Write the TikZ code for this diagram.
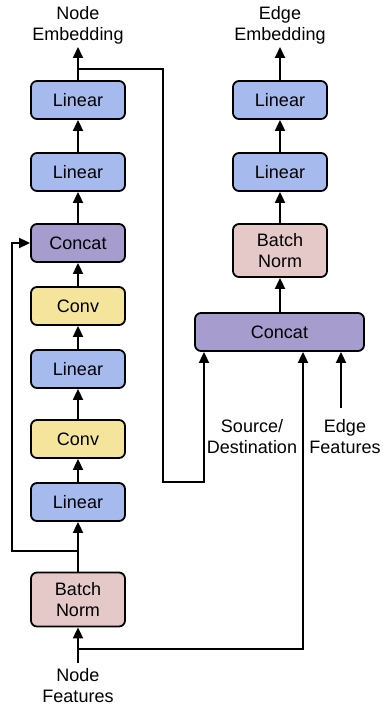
\documentclass[tikz,border=0pt]{standalone}
\usepackage{fontspec}
\setmainfont{Liberation Sans}
\usetikzlibrary{arrows.meta,calc}
\definecolor{linblue}{RGB}{167,186,238}
\definecolor{catpurp}{RGB}{166,156,206}
\definecolor{convyel}{RGB}{245,229,156}
\definecolor{bnpink}{RGB}{229,201,201}
\begin{document}
\begin{tikzpicture}[x=1pt,y=-1pt,
  box/.style={draw=black,line width=1.8pt,rounded corners=6pt,minimum width=94pt,inner sep=0pt,align=center,font=\fontsize{18}{21}\selectfont},
  lin/.style={box,fill=linblue,minimum height=38pt},
  cat/.style={box,fill=catpurp,minimum height=38pt},
  cnv/.style={box,fill=convyel,minimum height=38pt},
  bnb/.style={box,fill=bnpink,minimum height=54pt},
  lbl/.style={align=center,inner sep=0pt,font=\fontsize{18}{21}\selectfont},
  arr/.style={line width=1.8pt,-{Triangle[length=11pt,width=10pt]}},
  ln/.style={line width=1.8pt}]
\useasboundingbox (0,0) rectangle (384,706);
% left column
\node[lin] (l4) at (78,100) {Linear};
\node[lin] (l3) at (78,172) {Linear};
\node[cat] (cn) at (78,243) {Concat};
\node[cnv] (c2) at (78,306) {Conv};
\node[lin] (l2) at (78,369) {Linear};
\node[cnv] (c1) at (78,439) {Conv};
\node[lin] (l1) at (78,502) {Linear};
\node[bnb] (bn) at (78,599.5) {Batch\\Norm};
\node[lbl] (nf) at (78,686) {Node\\Features};
\node[lbl] (ne) at (78,25) {Node\\Embedding};
% right column
\node[lin] (r2) at (280,100) {Linear};
\node[lin] (r1) at (280,172) {Linear};
\node[bnb,minimum height=53pt] (rb) at (280,250.5) {Batch\\Norm};
\node[cat,minimum width=169pt] (ce) at (279.5,332) {Concat};
\node[lbl] (ee) at (280,25) {Edge\\Embedding};
\node[lbl] (sd) at (252,437) {Source/\\Destination};
\node[lbl] (ef) at (345,437) {Edge\\Features};
% helper coordinates
\coordinate (nfin) at (78,663);
\coordinate (j1) at (78,649);
\coordinate (j2) at (78,551);
\coordinate (sk) at (12,551);
\coordinate (j3) at (78,69);
\coordinate (xr) at (163,482);
\coordinate (x204) at (204,0);
\coordinate (x303) at (303,0);
\coordinate (x341) at (341,0);
\coordinate (efin) at (341,408);
\coordinate (netop) at (78,47);
\coordinate (eetop) at (280,47);
% left connectors
\draw[arr] (nfin) -- (bn.south);
\draw[arr] (bn.north) -- (l1.south);
\draw[arr] (l1.north) -- (c1.south);
\draw[arr] (c1.north) -- (l2.south);
\draw[arr] (l2.north) -- (c2.south);
\draw[arr] (c2.north) -- (cn.south);
\draw[arr] (cn.north) -- (l3.south);
\draw[arr] (l3.north) -- (l4.south);
\draw[arr] (l4.north) -- (netop);
\draw[arr] (j2) -- (sk) |- (cn.west);
\draw[arr] (j1) -| (ce.south -| x303);
\draw[arr] (j3) -| (xr) -| (ce.south -| x204);
% right connectors
\draw[arr] (ce.north -| rb.south) -- (rb.south);
\draw[arr] (rb.north) -- (r1.south);
\draw[arr] (r1.north) -- (r2.south);
\draw[arr] (r2.north) -- (eetop);
\draw[arr] (efin) -- (ce.south -| x341);
\end{tikzpicture}
\end{document}
